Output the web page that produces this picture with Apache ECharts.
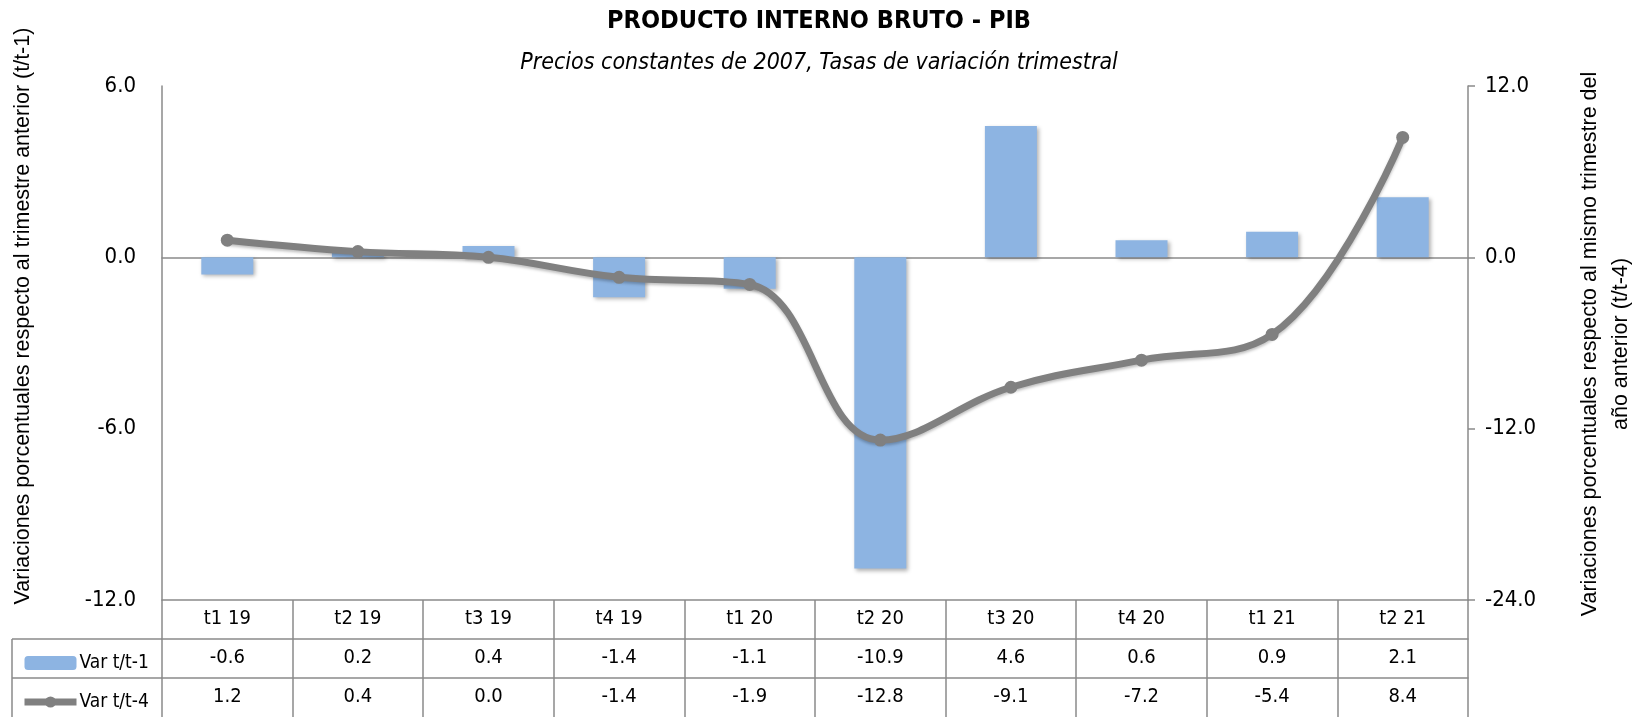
<!DOCTYPE html>
<html>
<head>
<meta charset="utf-8">
<script src="https://cdn.jsdelivr.net/npm/echarts@6/dist/echarts.min.js"></script>
<style>
html, body { margin: 0; padding: 0; background: #fff; }
#main { width: 1638px; height: 717px; }
</style>
</head>
<body>
<div id="main"></div>
<script>
var categories = ['t1 19', 't2 19', 't3 19', 't4 19', 't1 20', 't2 20', 't3 20', 't4 20', 't1 21', 't2 21']
var varTrim = [-0.6, 0.2, 0.4, -1.4, -1.1, -10.9, 4.6, 0.6, 0.9, 2.1]
var varAnual = [1.2, 0.4, 0.0, -1.4, -1.9, -12.8, -9.1, -7.2, -5.4, 8.4]
var leftTicks = { min: -12, max: 6, interval: 6 }
var rightTicks = { min: -24, max: 12, interval: 12 }

var narrow = "'Liberation Sans Narrow', 'Arial Narrow', 'DejaVu Sans Condensed', sans-serif"
var regular = "'Liberation Sans', Arial, sans-serif"
var gridColor = '#8a8a8a'
var fmt = function (v) { return Number(v).toFixed(1) }

var myChart = echarts.init(document.getElementById('main'))

// filas de la tabla de datos debajo del grafico
var tableAxis = function (data, offset, withTicks) {
	return {
		type: 'category',
		data: data,
		position: 'bottom',
		offset: offset,
		axisLine: { show: true, onZero: false, lineStyle: { color: gridColor, width: 1.5 } },
		axisTick: { show: withTicks, interval: 0, length: 117, lineStyle: { color: gridColor, width: 1.5 } },
		axisLabel: { interval: 0, margin: 9, color: '#000', fontFamily: narrow, fontSize: 20 },
		splitLine: { show: false },
	}
}

var option = {
	animation: false,
	title: {
		text: 'PRODUCTO INTERNO BRUTO - PIB',
		subtext: 'Precios constantes de 2007, Tasas de variación trimestral',
		left: 'center',
		top: 4,
		itemGap: 18,
		textStyle: { fontFamily: narrow, fontWeight: 'bold', fontSize: 25, color: '#000' },
		subtextStyle: { fontFamily: narrow, fontStyle: 'italic', fontSize: 23, color: '#000' },
	},
	legend: {
		data: ['Var t/t-1', 'Var t/t-4'],
		orient: 'vertical',
		left: 16,
		top: 648,
		itemGap: 19,
		itemWidth: 52,
		itemHeight: 14,
		lineStyle: { width: 7 },
		textStyle: { fontFamily: narrow, fontSize: 19, color: '#000', lineHeight: 20, padding: [0, 0, 0, -2] },
	},
	grid: { left: 162, right: 170, top: 86, bottom: 117 },
	xAxis: [
		{
			type: 'category',
			data: categories,
			axisLine: { show: true, onZero: true, lineStyle: { color: gridColor, width: 1.5 } },
			axisTick: { show: false },
			axisLabel: { show: false },
		},
		tableAxis(categories, 0, true),
		tableAxis(varTrim.map(fmt), 39, false),
		tableAxis(varAnual.map(fmt), 78, false),
	],
	yAxis: [
		{
			type: 'value',
			min: leftTicks.min,
			max: leftTicks.max,
			interval: leftTicks.interval,
			axisLine: { show: true, lineStyle: { color: gridColor, width: 1.5 } },
			axisTick: { show: false },
			splitLine: { show: false },
			axisLabel: { formatter: fmt, margin: 26, color: '#000', fontFamily: narrow, fontSize: 22 },
		},
		{
			type: 'value',
			min: rightTicks.min,
			max: rightTicks.max,
			interval: rightTicks.interval,
			axisLine: { show: true, lineStyle: { color: gridColor, width: 1.5 } },
			axisTick: { show: true, length: 7, lineStyle: { color: gridColor, width: 1.5 } },
			splitLine: { show: false },
			axisLabel: { formatter: fmt, margin: 17, color: '#000', fontFamily: narrow, fontSize: 22 },
		},
	],
	graphic: [
		{ type: 'line', shape: { x1: 12, y1: 639, x2: 162, y2: 639 }, style: { stroke: gridColor, lineWidth: 1.5 } },
		{ type: 'line', shape: { x1: 12, y1: 678, x2: 162, y2: 678 }, style: { stroke: gridColor, lineWidth: 1.5 } },
		{ type: 'line', shape: { x1: 12, y1: 639, x2: 12, y2: 717 }, style: { stroke: gridColor, lineWidth: 1.5 } },
		{
			type: 'text',
			x: 23,
			y: 316,
			rotation: Math.PI / 2,
			style: {
				text: 'Variaciones porcentuales respecto al trimestre anterior (t/t-1)',
				font: '21.5px ' + regular,
				fill: '#000',
				textAlign: 'center',
				textVerticalAlign: 'middle',
			},
		},
		{
			type: 'text',
			x: 1606,
			y: 344,
			rotation: Math.PI / 2,
			style: {
				text: 'Variaciones porcentuales respecto al mismo trimestre del\naño anterior (t/t-4)',
				font: '21.5px ' + regular,
				lineHeight: 31,
				fill: '#000',
				textAlign: 'center',
				textVerticalAlign: 'middle',
			},
		},
	],
	series: [
		{
			name: 'Var t/t-1',
			type: 'bar',
			data: varTrim,
			xAxisIndex: 0,
			yAxisIndex: 0,
			barWidth: 52,
			itemStyle: {
				color: '#8db4e2',
				shadowColor: 'rgba(0,0,0,0.3)',
				shadowBlur: 4,
				shadowOffsetX: 2,
				shadowOffsetY: 2,
			},
		},
		{
			name: 'Var t/t-4',
			type: 'line',
			data: varAnual,
			xAxisIndex: 0,
			yAxisIndex: 1,
			smooth: 0.4,
			symbol: 'circle',
			symbolSize: 13,
			itemStyle: { color: '#808080' },
			lineStyle: { color: '#808080', width: 7, shadowColor: 'rgba(0,0,0,0.25)', shadowBlur: 3, shadowOffsetY: 2 },
		},
	],
}
myChart.setOption(option)
</script>
</body>
</html>
